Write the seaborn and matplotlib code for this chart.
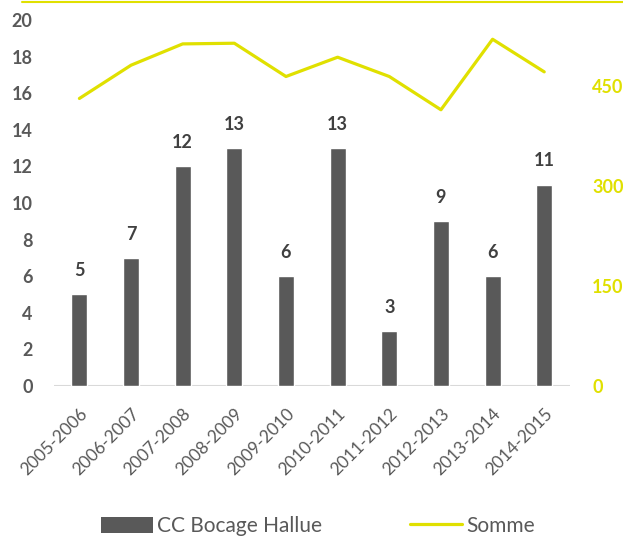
import numpy as np
import pandas as pd
import matplotlib
matplotlib.use("Agg")
import matplotlib.pyplot as plt
from matplotlib.lines import Line2D
from matplotlib.patches import Patch
import seaborn as sns

# Data
seasons = ["2005-2006", "2006-2007", "2007-2008", "2008-2009", "2009-2010",
           "2010-2011", "2011-2012", "2012-2013", "2013-2014", "2014-2015"]
cc_bocage = [5, 7, 12, 13, 6, 13, 3, 9, 6, 11]
somme = [432, 482, 514, 515, 465, 494, 465, 415, 521, 472]

bar_color = "#595959"
line_color = "#E0E000"
text_color = "#595959"

sns.set_style("white")
plt.rcParams["font.family"] = ["Lato", "DejaVu Sans"]

df = pd.DataFrame({"season": seasons, "cc": cc_bocage, "somme": somme})

fig = plt.figure(figsize=(6.23, 5.39), dpi=100)
ax = fig.add_axes([0.086, 0.284, 0.829, 0.679])

sns.barplot(data=df, x="season", y="cc", color=bar_color, width=0.31,
            saturation=1, ax=ax)
ax.set_xlim(-0.5, 9.5)
ax.set_ylim(0, 20)
ax.set_yticks(range(0, 21, 2))
ax.set_xlabel("")
ax.set_ylabel("")
for s in ax.spines.values():
    s.set_visible(False)
ax.axhline(0, color="#d9d9d9", lw=1.5, zorder=0)
ax.tick_params(axis="y", length=0, labelsize=13, labelcolor=text_color, pad=15)
ax.tick_params(axis="x", length=0, labelsize=12.5, labelcolor=text_color, pad=14)
for lab in ax.get_yticklabels():
    lab.set_fontweight("bold")
plt.setp(ax.get_xticklabels(), rotation=45, ha="right", rotation_mode="anchor")

for i, v in enumerate(cc_bocage):
    ax.annotate(str(v), (i, v), xytext=(0, 11), textcoords="offset points",
                ha="center", va="bottom", fontsize=13, fontweight="bold",
                color="#404040")

ax2 = ax.twinx()
sns.lineplot(data=df, x="season", y="somme", color=line_color, lw=2.3, ax=ax2)
ax2.set_ylim(0, 550)
ax2.set_yticks([0, 150, 300, 450])
ax2.set_ylabel("")
ax2.set_xlabel("")
for s in ax2.spines.values():
    s.set_visible(False)
ax2.tick_params(axis="y", length=0, labelsize=13, labelcolor=line_color, pad=16)
for lab in ax2.get_yticklabels():
    lab.set_fontweight("bold")
ax2.set_xlim(-0.5, 9.5)

# thin yellow rule along the top of the picture
fig.add_artist(Line2D([0.035, 1.0], [0.996, 0.996], color=line_color, lw=1.5,
                      transform=fig.transFigure))

handles = [Patch(facecolor=bar_color, edgecolor="none"),
           Line2D([0], [0], color=line_color, lw=2.3)]
fig.legend(handles, ["CC Bocage Hallue", "Somme"], loc="center",
           bbox_to_anchor=(0.51, 0.024), ncol=2, frameon=False, fontsize=15,
           handlelength=2.5, handleheight=0.8, handletextpad=0.2,
           columnspacing=4.2, labelcolor=text_color)

fig.savefig("out.png", dpi=100)
